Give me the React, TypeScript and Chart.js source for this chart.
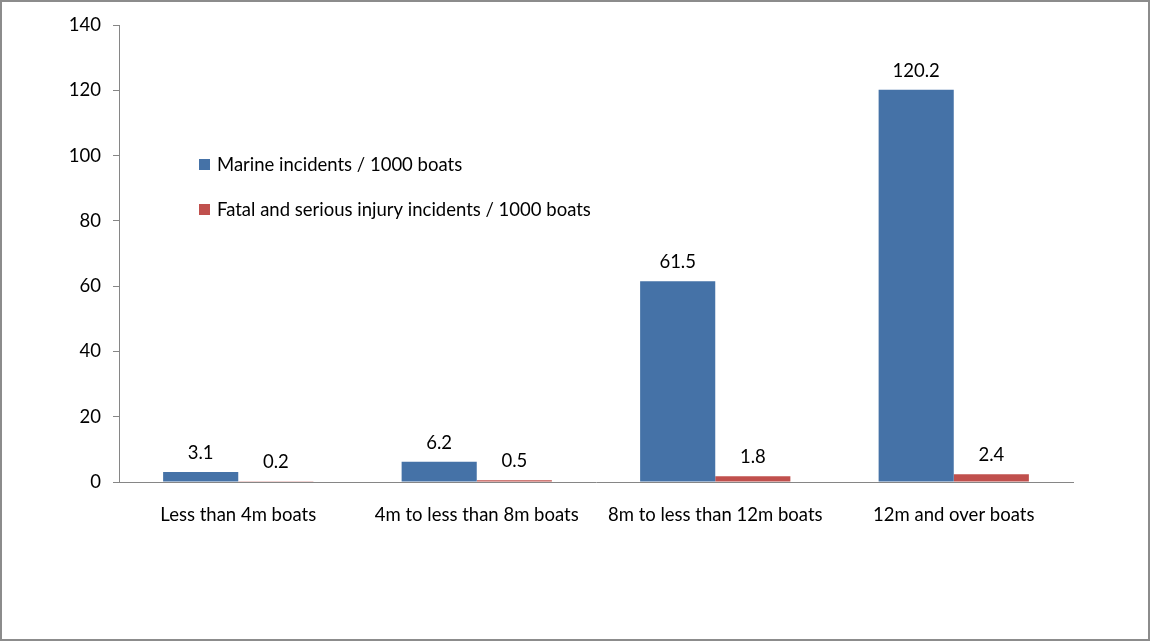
import React, { useEffect, useRef } from "react";
import { Chart, registerables } from "chart.js";

Chart.register(...registerables);

const categories = [
  "Less than 4m boats",
  "4m to less than 8m boats",
  "8m to less than 12m boats",
  "12m and over boats",
];
const marineIncidents = [3.1, 6.2, 61.5, 120.2];
const fatalSerious = [0.2, 0.5, 1.8, 2.4];
const seriesLabels = [
  "Marine incidents / 1000 boats",
  "Fatal and serious injury incidents / 1000 boats",
];
const seriesColors = ["#4572A7", "#C0504D"];

const FONT = "Lato, 'Open Sans', sans-serif";
const FONT_SIZE = 18.5;

const valueLabels = {
  id: "valueLabels",
  afterDatasetsDraw(chart: any) {
    const ctx = chart.ctx;
    ctx.save();
    ctx.font = `${FONT_SIZE}px ${FONT}`;
    ctx.fillStyle = "#000";
    ctx.textAlign = "center";
    ctx.textBaseline = "alphabetic";
    chart.data.datasets.forEach((ds: any, i: number) => {
      const meta = chart.getDatasetMeta(i);
      meta.data.forEach((el: any, j: number) => {
        ctx.fillText(String(ds.data[j]), el.x, el.y - 13);
      });
    });
    ctx.restore();
  },
};

const customLegend = {
  id: "customLegend",
  afterDraw(chart: any) {
    const ctx = chart.ctx;
    ctx.save();
    ctx.font = `${FONT_SIZE}px ${FONT}`;
    ctx.textBaseline = "middle";
    ctx.textAlign = "left";
    const x0 = 197;
    const ys = [162, 207];
    chart.data.datasets.forEach((ds: any, i: number) => {
      ctx.fillStyle = ds.backgroundColor;
      ctx.fillRect(x0, ys[i] - 5, 11, 11);
      ctx.fillStyle = "#000";
      ctx.fillText(ds.label, x0 + 18, ys[i] + 1);
    });
    ctx.restore();
  },
};

export default function App() {
  const ref = useRef<HTMLCanvasElement | null>(null);
  useEffect(() => {
    if (!ref.current) return;
    const chart = new Chart(ref.current, {
      type: "bar",
      data: {
        labels: categories,
        datasets: [
          {
            label: seriesLabels[0],
            data: marineIncidents,
            backgroundColor: seriesColors[0],
            categoryPercentage: 0.63,
            barPercentage: 1,
          },
          {
            label: seriesLabels[1],
            data: fatalSerious,
            backgroundColor: seriesColors[1],
            categoryPercentage: 0.63,
            barPercentage: 1,
          },
        ],
      },
      options: {
        animation: false,
        responsive: false,
        layout: { padding: { left: 0, right: 75, top: 22, bottom: 0 } },
        plugins: {
          legend: { display: false },
          tooltip: { enabled: false },
        },
        scales: {
          x: {
            grid: { display: true, drawOnChartArea: false, drawTicks: false },
            border: { display: true, color: "#868686", width: 1 },
            ticks: {
              padding: 22,
              color: "#000",
              font: { family: FONT, size: FONT_SIZE },
              maxRotation: 0,
            },
            afterFit(scale: any) {
              scale.height = 157;
            },
          },
          y: {
            min: 0,
            max: 140,
            ticks: {
              stepSize: 20,
              padding: 12,
              color: "#000",
              font: { family: FONT, size: FONT_SIZE },
            },
            grid: {
              display: true,
              drawOnChartArea: false,
              drawTicks: true,
              tickLength: 6,
              color: "#868686",
            },
            border: { display: true, color: "#868686", width: 1 },
            afterFit(scale: any) {
              scale.width = 117;
            },
          },
        },
      },
      plugins: [valueLabels, customLegend],
    });
    return () => chart.destroy();
  }, []);

  return (
    <div
      style={{
        position: "fixed",
        left: 0,
        top: 0,
        width: 1150,
        height: 641,
        boxSizing: "border-box",
        border: "2px solid #8c8c8c",
        background: "#fff",
      }}
    >
      <canvas
        ref={ref}
        width={1146}
        height={637}
        style={{ display: "block" }}
      />
    </div>
  );
}
